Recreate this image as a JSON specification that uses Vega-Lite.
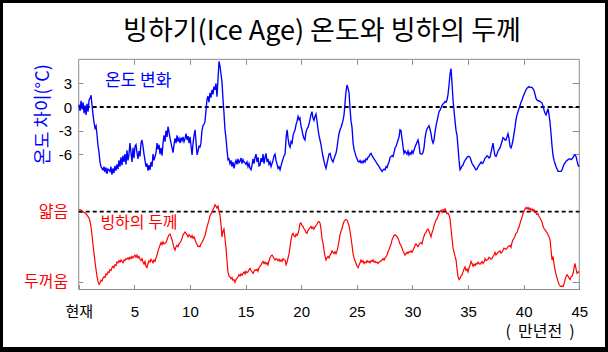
{
 "$schema": "https://vega.github.io/schema/vega-lite/v6.json",
 "width": 602, "height": 344,
 "autosize": {"type": "none"},
 "padding": {"left": 3, "top": 3, "right": 3, "bottom": 5},
 "background": "#000000",
 "config": {
  "view": {"fill": "#ffffff", "stroke": null},
  "axis": {"domain": false, "grid": false, "tickColor": "#8c8c8c", "tickWidth": 1, "labelFont": "Liberation Sans, Noto Sans CJK KR", "titleFont": "Noto Sans CJK KR", "labelFlush": false, "labelOverlap": false, "labelBound": false},
  "text": {"font": "Noto Sans CJK KR"}
 },
 "data": {"values": [
{"t":0.03,"temp":0.3,"ice":-0.03},{"t":0.12,"temp":-0.5,"ice":-0.03},{"t":0.21,"temp":0.8,"ice":-0.02},{"t":0.30,"temp":-0.3,"ice":-0.01},{"t":0.39,"temp":0.6,"ice":0.0},{"t":0.48,"temp":-0.8,"ice":0.01},{"t":0.57,"temp":0.2,"ice":0.02},{"t":0.66,"temp":-1.0,"ice":0.03},{"t":0.75,"temp":0.4,"ice":0.05},{"t":0.84,"temp":-0.6,"ice":0.07},{"t":0.93,"temp":0.9,"ice":0.09},
{"t":1.02,"temp":1.1,"ice":0.14},{"t":1.11,"temp":1.5,"ice":0.22},{"t":1.20,"temp":0.2,"ice":0.34},{"t":1.29,"temp":-1.0,"ice":0.48},{"t":1.38,"temp":-2.0,"ice":0.60},{"t":1.47,"temp":-2.7,"ice":0.72},{"t":1.56,"temp":-2.4,"ice":0.83},{"t":1.65,"temp":-3.6,"ice":0.93},{"t":1.74,"temp":-5.0,"ice":1.0},{"t":1.83,"temp":-5.8,"ice":1.04},
{"t":1.91,"temp":-7.0,"ice":1.02},{"t":2.00,"temp":-7.6,"ice":0.98},{"t":2.09,"temp":-7.8,"ice":0.99},{"t":2.18,"temp":-8.0,"ice":0.95},{"t":2.27,"temp":-7.6,"ice":0.93},{"t":2.36,"temp":-8.3,"ice":0.94},{"t":2.45,"temp":-7.7,"ice":0.89},{"t":2.54,"temp":-8.5,"ice":0.90},{"t":2.63,"temp":-7.9,"ice":0.86},{"t":2.72,"temp":-8.0,"ice":0.87},
{"t":2.81,"temp":-8.2,"ice":0.83},{"t":2.90,"temp":-7.6,"ice":0.84},{"t":2.99,"temp":-8.6,"ice":0.80},{"t":3.08,"temp":-7.8,"ice":0.78},{"t":3.17,"temp":-8.4,"ice":0.80},{"t":3.26,"temp":-7.5,"ice":0.76},{"t":3.35,"temp":-8.1,"ice":0.77},{"t":3.44,"temp":-7.3,"ice":0.72},{"t":3.53,"temp":-7.9,"ice":0.73},{"t":3.62,"temp":-6.8,"ice":0.70},
{"t":3.71,"temp":-7.6,"ice":0.72},{"t":3.80,"temp":-6.4,"ice":0.69},{"t":3.89,"temp":-7.4,"ice":0.71},{"t":3.98,"temp":-6.2,"ice":0.73},{"t":4.07,"temp":-7.0,"ice":0.69},{"t":4.16,"temp":-6.0,"ice":0.70},{"t":4.25,"temp":-7.3,"ice":0.67},{"t":4.34,"temp":-5.5,"ice":0.68},{"t":4.43,"temp":-6.8,"ice":0.66},{"t":4.52,"temp":-6.0,"ice":0.68},
{"t":4.61,"temp":-4.6,"ice":0.65},{"t":4.70,"temp":-5.8,"ice":0.67},{"t":4.79,"temp":-7.0,"ice":0.64},{"t":4.88,"temp":-5.2,"ice":0.66},{"t":4.97,"temp":-6.5,"ice":0.64},{"t":5.06,"temp":-5.0,"ice":0.62},{"t":5.15,"temp":-4.8,"ice":0.65},{"t":5.24,"temp":-5.8,"ice":0.62},{"t":5.33,"temp":-6.6,"ice":0.66},{"t":5.42,"temp":-5.6,"ice":0.64},
{"t":5.51,"temp":-6.3,"ice":0.68},{"t":5.60,"temp":-4.6,"ice":0.70},{"t":5.69,"temp":-4.2,"ice":0.67},{"t":5.78,"temp":-5.0,"ice":0.72},{"t":5.87,"temp":-6.0,"ice":0.75},{"t":5.96,"temp":-6.8,"ice":0.71},{"t":6.05,"temp":-7.6,"ice":0.78},{"t":6.14,"temp":-7.2,"ice":0.80},{"t":6.23,"temp":-8.1,"ice":0.74},{"t":6.32,"temp":-7.4,"ice":0.70},
{"t":6.41,"temp":-8.0,"ice":0.72},{"t":6.50,"temp":-7.0,"ice":0.68},{"t":6.59,"temp":-7.6,"ice":0.70},{"t":6.68,"temp":-6.0,"ice":0.73},{"t":6.77,"temp":-6.8,"ice":0.69},{"t":6.86,"temp":-6.3,"ice":0.71},{"t":6.95,"temp":-5.8,"ice":0.66},{"t":7.04,"temp":-4.6,"ice":0.62},{"t":7.13,"temp":-5.4,"ice":0.56},{"t":7.22,"temp":-4.8,"ice":0.52},
{"t":7.31,"temp":-6.0,"ice":0.48},{"t":7.40,"temp":-5.2,"ice":0.44},{"t":7.49,"temp":-6.2,"ice":0.47},{"t":7.58,"temp":-4.6,"ice":0.43},{"t":7.67,"temp":-3.6,"ice":0.46},{"t":7.76,"temp":-4.4,"ice":0.45},{"t":7.85,"temp":-3.0,"ice":0.44},{"t":7.94,"temp":-3.8,"ice":0.40},{"t":8.03,"temp":-2.5,"ice":0.36},{"t":8.12,"temp":-3.2,"ice":0.33},
{"t":8.21,"temp":-4.0,"ice":0.32},{"t":8.30,"temp":-4.6,"ice":0.36},{"t":8.39,"temp":-5.2,"ice":0.40},{"t":8.48,"temp":-5.8,"ice":0.46},{"t":8.57,"temp":-4.8,"ice":0.52},{"t":8.66,"temp":-4.0,"ice":0.55},{"t":8.75,"temp":-4.6,"ice":0.50},{"t":8.84,"temp":-3.6,"ice":0.48},{"t":8.93,"temp":-4.4,"ice":0.50},{"t":9.02,"temp":-4.0,"ice":0.46},
{"t":9.11,"temp":-4.6,"ice":0.44},{"t":9.20,"temp":-3.9,"ice":0.42},{"t":9.29,"temp":-4.3,"ice":0.38},{"t":9.38,"temp":-3.8,"ice":0.33},{"t":9.47,"temp":-4.4,"ice":0.31},{"t":9.56,"temp":-4.0,"ice":0.29},{"t":9.65,"temp":-3.4,"ice":0.31},{"t":9.74,"temp":-4.2,"ice":0.33},{"t":9.83,"temp":-3.7,"ice":0.36},{"t":9.92,"temp":-4.6,"ice":0.33},
{"t":10.01,"temp":-3.8,"ice":0.35},{"t":10.10,"temp":-5.0,"ice":0.37},{"t":10.19,"temp":-6.1,"ice":0.34},{"t":10.28,"temp":-4.6,"ice":0.38},{"t":10.37,"temp":-3.6,"ice":0.36},{"t":10.46,"temp":-2.9,"ice":0.40},{"t":10.55,"temp":-4.5,"ice":0.44},{"t":10.64,"temp":-6.1,"ice":0.47},{"t":10.73,"temp":-5.6,"ice":0.50},{"t":10.82,"temp":-5.0,"ice":0.49},
{"t":10.90,"temp":-5.1,"ice":0.50},{"t":10.99,"temp":-4.6,"ice":0.46},{"t":11.08,"temp":-3.0,"ice":0.44},{"t":11.17,"temp":-2.4,"ice":0.41},{"t":11.26,"temp":-2.2,"ice":0.38},{"t":11.35,"temp":-1.9,"ice":0.34},{"t":11.44,"temp":-0.5,"ice":0.28},{"t":11.53,"temp":0.9,"ice":0.22},{"t":11.62,"temp":1.4,"ice":0.17},{"t":11.71,"temp":0.6,"ice":0.12},
{"t":11.80,"temp":1.8,"ice":0.06},{"t":11.89,"temp":1.2,"ice":0.03},{"t":11.98,"temp":2.2,"ice":0.01},{"t":12.07,"temp":1.6,"ice":-0.03},{"t":12.16,"temp":2.6,"ice":-0.06},{"t":12.25,"temp":2.2,"ice":-0.10},{"t":12.34,"temp":3.0,"ice":-0.08},{"t":12.43,"temp":1.3,"ice":-0.05},{"t":12.52,"temp":3.5,"ice":-0.08},{"t":12.61,"temp":5.8,"ice":-0.01},
{"t":12.70,"temp":5.2,"ice":0.05},{"t":12.79,"temp":4.2,"ice":0.18},{"t":12.88,"temp":3.2,"ice":0.36},{"t":12.97,"temp":1.0,"ice":0.28},{"t":13.06,"temp":-0.8,"ice":0.25},{"t":13.15,"temp":-2.9,"ice":0.38},{"t":13.24,"temp":-4.0,"ice":0.52},{"t":13.33,"temp":-5.4,"ice":0.70},{"t":13.42,"temp":-6.7,"ice":0.86},{"t":13.51,"temp":-6.6,"ice":0.92},
{"t":13.60,"temp":-7.2,"ice":0.93},{"t":13.69,"temp":-6.8,"ice":0.96},{"t":13.78,"temp":-7.6,"ice":0.94},{"t":13.87,"temp":-7.0,"ice":0.98},{"t":13.96,"temp":-7.8,"ice":0.97},{"t":14.05,"temp":-7.2,"ice":1.01},{"t":14.14,"temp":-6.8,"ice":0.97},{"t":14.23,"temp":-7.3,"ice":0.95},{"t":14.32,"temp":-6.6,"ice":0.93},{"t":14.41,"temp":-7.1,"ice":0.90},
{"t":14.50,"temp":-6.9,"ice":0.92},{"t":14.59,"temp":-6.5,"ice":0.89},{"t":14.68,"temp":-7.2,"ice":0.91},{"t":14.77,"temp":-6.7,"ice":0.88},{"t":14.86,"temp":-7.0,"ice":0.86},{"t":14.95,"temp":-7.1,"ice":0.89},{"t":15.04,"temp":-7.3,"ice":0.85},{"t":15.13,"temp":-7.0,"ice":0.87},{"t":15.22,"temp":-7.6,"ice":0.86},{"t":15.31,"temp":-7.2,"ice":0.83},
{"t":15.40,"temp":-7.8,"ice":0.81},{"t":15.49,"temp":-8.0,"ice":0.84},{"t":15.58,"temp":-7.4,"ice":0.86},{"t":15.67,"temp":-6.6,"ice":0.88},{"t":15.76,"temp":-7.2,"ice":0.85},{"t":15.85,"temp":-6.4,"ice":0.83},{"t":15.94,"temp":-6.0,"ice":0.84},{"t":16.03,"temp":-7.0,"ice":0.82},{"t":16.12,"temp":-6.4,"ice":0.85},{"t":16.21,"temp":-7.5,"ice":0.80},
{"t":16.30,"temp":-7.4,"ice":0.78},{"t":16.39,"temp":-6.5,"ice":0.76},{"t":16.48,"temp":-7.0,"ice":0.73},{"t":16.57,"temp":-6.0,"ice":0.71},{"t":16.66,"temp":-7.2,"ice":0.74},{"t":16.75,"temp":-6.4,"ice":0.72},{"t":16.84,"temp":-5.9,"ice":0.75},{"t":16.93,"temp":-7.0,"ice":0.73},{"t":17.02,"temp":-6.6,"ice":0.76},{"t":17.11,"temp":-7.3,"ice":0.70},
{"t":17.20,"temp":-7.0,"ice":0.66},{"t":17.29,"temp":-7.6,"ice":0.63},{"t":17.38,"temp":-7.2,"ice":0.62},{"t":17.47,"temp":-6.8,"ice":0.64},{"t":17.56,"temp":-6.2,"ice":0.67},{"t":17.65,"temp":-6.0,"ice":0.69},{"t":17.74,"temp":-6.8,"ice":0.67},{"t":17.83,"temp":-7.3,"ice":0.68},{"t":17.92,"temp":-7.8,"ice":0.70},{"t":18.01,"temp":-7.6,"ice":0.68},
{"t":18.10,"temp":-8.0,"ice":0.71},{"t":18.19,"temp":-7.5,"ice":0.69},{"t":18.28,"temp":-7.0,"ice":0.71},{"t":18.37,"temp":-6.6,"ice":0.67},{"t":18.46,"temp":-6.2,"ice":0.69},{"t":18.55,"temp":-6.0,"ice":0.69},{"t":18.64,"temp":-4.0,"ice":0.76},{"t":18.73,"temp":-2.9,"ice":0.72},{"t":18.82,"temp":-4.0,"ice":0.66},{"t":18.91,"temp":-4.8,"ice":0.60},
{"t":19.00,"temp":-5.1,"ice":0.50},{"t":19.09,"temp":-4.4,"ice":0.40},{"t":19.18,"temp":-4.6,"ice":0.33},{"t":19.27,"temp":-3.6,"ice":0.31},{"t":19.36,"temp":-3.2,"ice":0.35},{"t":19.45,"temp":-2.9,"ice":0.36},{"t":19.54,"temp":-2.2,"ice":0.32},{"t":19.63,"temp":-1.8,"ice":0.34},{"t":19.72,"temp":-1.2,"ice":0.31},{"t":19.81,"temp":-1.6,"ice":0.25},
{"t":19.89,"temp":-1.4,"ice":0.17},{"t":19.98,"temp":-2.4,"ice":0.16},{"t":20.07,"temp":-2.9,"ice":0.20},{"t":20.16,"temp":-3.6,"ice":0.21},{"t":20.25,"temp":-4.0,"ice":0.24},{"t":20.34,"temp":-4.2,"ice":0.26},{"t":20.43,"temp":-3.2,"ice":0.30},{"t":20.52,"temp":-2.8,"ice":0.31},{"t":20.61,"temp":-2.6,"ice":0.27},{"t":20.70,"temp":-2.2,"ice":0.25},
{"t":20.79,"temp":-1.6,"ice":0.23},{"t":20.88,"temp":-1.0,"ice":0.21},{"t":20.97,"temp":-0.6,"ice":0.24},{"t":21.06,"temp":-1.4,"ice":0.22},{"t":21.15,"temp":-1.7,"ice":0.25},{"t":21.24,"temp":-1.2,"ice":0.22},{"t":21.33,"temp":-0.9,"ice":0.20},{"t":21.42,"temp":-1.8,"ice":0.18},{"t":21.51,"temp":-2.8,"ice":0.15},{"t":21.60,"temp":-3.6,"ice":0.14},
{"t":21.69,"temp":-4.2,"ice":0.16},{"t":21.78,"temp":-4.8,"ice":0.25},{"t":21.87,"temp":-5.6,"ice":0.38},{"t":21.96,"temp":-6.3,"ice":0.45},{"t":22.05,"temp":-6.9,"ice":0.55},{"t":22.14,"temp":-7.4,"ice":0.63},{"t":22.23,"temp":-7.8,"ice":0.69},{"t":22.32,"temp":-7.2,"ice":0.66},{"t":22.41,"temp":-6.6,"ice":0.64},{"t":22.50,"temp":-6.0,"ice":0.66},
{"t":22.59,"temp":-5.9,"ice":0.62},{"t":22.68,"temp":-6.4,"ice":0.60},{"t":22.77,"temp":-6.8,"ice":0.56},{"t":22.86,"temp":-7.0,"ice":0.58},{"t":22.95,"temp":-6.6,"ice":0.60},{"t":23.04,"temp":-6.2,"ice":0.57},{"t":23.13,"temp":-5.9,"ice":0.60},{"t":23.22,"temp":-5.2,"ice":0.56},{"t":23.31,"temp":-4.2,"ice":0.50},{"t":23.40,"temp":-3.4,"ice":0.42},
{"t":23.49,"temp":-2.9,"ice":0.33},{"t":23.58,"temp":-2.6,"ice":0.28},{"t":23.67,"temp":-2.2,"ice":0.24},{"t":23.76,"temp":-1.7,"ice":0.18},{"t":23.85,"temp":-1.0,"ice":0.14},{"t":23.94,"temp":0.5,"ice":0.12},{"t":24.03,"temp":2.0,"ice":0.11},{"t":24.12,"temp":2.8,"ice":0.12},{"t":24.21,"temp":2.4,"ice":0.16},{"t":24.30,"temp":1.8,"ice":0.20},
{"t":24.39,"temp":-0.2,"ice":0.28},{"t":24.48,"temp":-1.8,"ice":0.38},{"t":24.57,"temp":-2.6,"ice":0.48},{"t":24.66,"temp":-4.5,"ice":0.60},{"t":24.75,"temp":-5.4,"ice":0.66},{"t":24.84,"temp":-5.8,"ice":0.70},{"t":24.93,"temp":-6.3,"ice":0.74},{"t":25.02,"temp":-6.6,"ice":0.78},{"t":25.11,"temp":-6.9,"ice":0.80},{"t":25.20,"temp":-7.0,"ice":0.76},
{"t":25.29,"temp":-6.8,"ice":0.73},{"t":25.38,"temp":-7.1,"ice":0.69},{"t":25.47,"temp":-6.9,"ice":0.72},{"t":25.56,"temp":-7.1,"ice":0.70},{"t":25.65,"temp":-6.8,"ice":0.74},{"t":25.74,"temp":-7.0,"ice":0.72},{"t":25.83,"temp":-6.6,"ice":0.73},{"t":25.92,"temp":-6.7,"ice":0.70},{"t":26.01,"temp":-6.4,"ice":0.72},{"t":26.10,"temp":-6.3,"ice":0.71},
{"t":26.19,"temp":-6.0,"ice":0.73},{"t":26.28,"temp":-5.9,"ice":0.70},{"t":26.37,"temp":-6.2,"ice":0.71},{"t":26.46,"temp":-6.4,"ice":0.69},{"t":26.55,"temp":-6.6,"ice":0.72},{"t":26.64,"temp":-6.8,"ice":0.71},{"t":26.73,"temp":-7.0,"ice":0.73},{"t":26.82,"temp":-7.2,"ice":0.72},{"t":26.91,"temp":-7.4,"ice":0.74},{"t":27.00,"temp":-7.6,"ice":0.72},
{"t":27.09,"temp":-7.8,"ice":0.71},{"t":27.18,"temp":-8.0,"ice":0.70},{"t":27.27,"temp":-8.2,"ice":0.69},{"t":27.36,"temp":-8.0,"ice":0.67},{"t":27.45,"temp":-7.9,"ice":0.69},{"t":27.54,"temp":-8.0,"ice":0.66},{"t":27.63,"temp":-7.6,"ice":0.64},{"t":27.72,"temp":-7.7,"ice":0.62},{"t":27.81,"temp":-7.3,"ice":0.57},{"t":27.90,"temp":-7.0,"ice":0.54},
{"t":27.99,"temp":-6.4,"ice":0.50},{"t":28.08,"temp":-6.3,"ice":0.46},{"t":28.17,"temp":-6.2,"ice":0.40},{"t":28.26,"temp":-6.3,"ice":0.37},{"t":28.35,"temp":-5.8,"ice":0.34},{"t":28.44,"temp":-5.2,"ice":0.33},{"t":28.53,"temp":-5.0,"ice":0.34},{"t":28.62,"temp":-4.6,"ice":0.36},{"t":28.71,"temp":-4.2,"ice":0.38},{"t":28.80,"temp":-3.8,"ice":0.42},
{"t":28.88,"temp":-2.9,"ice":0.46},{"t":28.97,"temp":-3.0,"ice":0.48},{"t":29.06,"temp":-4.0,"ice":0.52},{"t":29.15,"temp":-5.0,"ice":0.56},{"t":29.24,"temp":-5.9,"ice":0.59},{"t":29.33,"temp":-5.6,"ice":0.62},{"t":29.42,"temp":-5.8,"ice":0.60},{"t":29.51,"temp":-6.0,"ice":0.58},{"t":29.60,"temp":-5.6,"ice":0.60},{"t":29.69,"temp":-6.1,"ice":0.57},
{"t":29.78,"temp":-5.8,"ice":0.58},{"t":29.87,"temp":-6.0,"ice":0.56},{"t":29.96,"temp":-5.6,"ice":0.58},{"t":30.05,"temp":-5.9,"ice":0.55},{"t":30.14,"temp":-5.5,"ice":0.52},{"t":30.23,"temp":-5.1,"ice":0.48},{"t":30.32,"temp":-4.8,"ice":0.46},{"t":30.41,"temp":-4.5,"ice":0.48},{"t":30.50,"temp":-4.2,"ice":0.50},{"t":30.59,"temp":-4.8,"ice":0.47},
{"t":30.68,"temp":-5.9,"ice":0.45},{"t":30.77,"temp":-6.0,"ice":0.44},{"t":30.86,"temp":-6.0,"ice":0.46},{"t":30.95,"temp":-5.8,"ice":0.40},{"t":31.04,"temp":-5.2,"ice":0.35},{"t":31.13,"temp":-4.0,"ice":0.31},{"t":31.22,"temp":-3.2,"ice":0.30},{"t":31.31,"temp":-2.8,"ice":0.26},{"t":31.40,"temp":-2.6,"ice":0.25},{"t":31.49,"temp":-2.4,"ice":0.28},
{"t":31.58,"temp":-2.8,"ice":0.32},{"t":31.67,"temp":-3.4,"ice":0.36},{"t":31.76,"temp":-4.2,"ice":0.30},{"t":31.85,"temp":-4.6,"ice":0.26},{"t":31.94,"temp":-4.2,"ice":0.20},{"t":32.03,"temp":-3.2,"ice":0.16},{"t":32.12,"temp":-2.4,"ice":0.12},{"t":32.21,"temp":-1.8,"ice":0.10},{"t":32.30,"temp":-1.2,"ice":0.06},{"t":32.39,"temp":-0.6,"ice":0.03},
{"t":32.48,"temp":-0.4,"ice":0.0},{"t":32.57,"temp":-0.1,"ice":-0.02},{"t":32.66,"temp":0.2,"ice":0.01},{"t":32.75,"temp":0.4,"ice":-0.03},{"t":32.84,"temp":0.5,"ice":-0.02},{"t":32.93,"temp":0.7,"ice":-0.04},{"t":33.02,"temp":0.6,"ice":0.0},{"t":33.11,"temp":0.9,"ice":0.03},{"t":33.20,"temp":1.6,"ice":0.02},{"t":33.29,"temp":2.8,"ice":0.05},
{"t":33.38,"temp":4.2,"ice":0.10},{"t":33.47,"temp":4.9,"ice":0.25},{"t":33.56,"temp":3.0,"ice":0.38},{"t":33.65,"temp":0.9,"ice":0.52},{"t":33.74,"temp":-0.5,"ice":0.58},{"t":33.83,"temp":-1.8,"ice":0.64},{"t":33.92,"temp":-3.0,"ice":0.69},{"t":34.01,"temp":-3.6,"ice":0.82},{"t":34.10,"temp":-5.2,"ice":0.93},{"t":34.19,"temp":-6.8,"ice":0.97},
{"t":34.28,"temp":-8.0,"ice":0.95},{"t":34.37,"temp":-7.8,"ice":0.92},{"t":34.46,"temp":-7.5,"ice":0.90},{"t":34.55,"temp":-7.4,"ice":0.86},{"t":34.64,"temp":-7.0,"ice":0.82},{"t":34.73,"temp":-6.8,"ice":0.79},{"t":34.82,"temp":-6.6,"ice":0.84},{"t":34.91,"temp":-6.4,"ice":0.82},{"t":35.00,"temp":-6.3,"ice":0.86},{"t":35.09,"temp":-6.3,"ice":0.80},
{"t":35.18,"temp":-6.4,"ice":0.76},{"t":35.27,"temp":-6.8,"ice":0.71},{"t":35.36,"temp":-7.2,"ice":0.74},{"t":35.45,"temp":-7.4,"ice":0.78},{"t":35.54,"temp":-7.6,"ice":0.75},{"t":35.63,"temp":-7.8,"ice":0.77},{"t":35.72,"temp":-8.0,"ice":0.74},{"t":35.81,"temp":-7.9,"ice":0.75},{"t":35.90,"temp":-7.6,"ice":0.72},{"t":35.99,"temp":-7.4,"ice":0.74},
{"t":36.08,"temp":-7.2,"ice":0.75},{"t":36.17,"temp":-7.0,"ice":0.73},{"t":36.26,"temp":-7.2,"ice":0.71},{"t":36.35,"temp":-7.1,"ice":0.74},{"t":36.44,"temp":-6.8,"ice":0.72},{"t":36.53,"temp":-6.5,"ice":0.67},{"t":36.62,"temp":-6.4,"ice":0.70},{"t":36.71,"temp":-6.2,"ice":0.69},{"t":36.80,"temp":-6.3,"ice":0.68},{"t":36.89,"temp":-6.5,"ice":0.65},
{"t":36.97,"temp":-6.4,"ice":0.66},{"t":37.06,"temp":-5.8,"ice":0.68},{"t":37.15,"temp":-5.2,"ice":0.67},{"t":37.24,"temp":-4.6,"ice":0.64},{"t":37.33,"temp":-5.5,"ice":0.62},{"t":37.42,"temp":-6.2,"ice":0.58},{"t":37.51,"temp":-6.3,"ice":0.62},{"t":37.60,"temp":-6.0,"ice":0.60},{"t":37.69,"temp":-5.6,"ice":0.58},{"t":37.78,"temp":-5.4,"ice":0.57},
{"t":37.87,"temp":-5.2,"ice":0.56},{"t":37.96,"temp":-4.8,"ice":0.59},{"t":38.05,"temp":-4.4,"ice":0.58},{"t":38.14,"temp":-3.9,"ice":0.55},{"t":38.23,"temp":-4.0,"ice":0.52},{"t":38.32,"temp":-4.2,"ice":0.53},{"t":38.41,"temp":-4.2,"ice":0.54},{"t":38.50,"temp":-3.8,"ice":0.52},{"t":38.59,"temp":-3.4,"ice":0.50},{"t":38.68,"temp":-4.0,"ice":0.49},
{"t":38.77,"temp":-5.0,"ice":0.48},{"t":38.86,"temp":-5.2,"ice":0.51},{"t":38.95,"temp":-4.8,"ice":0.44},{"t":39.04,"temp":-4.2,"ice":0.40},{"t":39.13,"temp":-3.4,"ice":0.38},{"t":39.22,"temp":-2.6,"ice":0.35},{"t":39.31,"temp":-1.6,"ice":0.31},{"t":39.40,"temp":-1.0,"ice":0.30},{"t":39.49,"temp":-0.6,"ice":0.25},{"t":39.58,"temp":-0.2,"ice":0.22},
{"t":39.67,"temp":0.2,"ice":0.17},{"t":39.76,"temp":0.6,"ice":0.12},{"t":39.85,"temp":0.9,"ice":0.08},{"t":39.94,"temp":1.3,"ice":0.03},{"t":40.03,"temp":1.6,"ice":-0.01},{"t":40.12,"temp":1.9,"ice":-0.04},{"t":40.21,"temp":2.2,"ice":-0.06},{"t":40.30,"temp":2.4,"ice":-0.04},{"t":40.39,"temp":2.5,"ice":-0.06},{"t":40.48,"temp":2.6,"ice":-0.03},
{"t":40.57,"temp":2.5,"ice":-0.05},{"t":40.66,"temp":2.5,"ice":-0.02},{"t":40.75,"temp":2.5,"ice":-0.04},{"t":40.84,"temp":2.3,"ice":-0.01},{"t":40.93,"temp":2.1,"ice":-0.03},{"t":41.02,"temp":1.6,"ice":0.0},{"t":41.11,"temp":1.1,"ice":0.02},{"t":41.20,"temp":0.9,"ice":0.04},{"t":41.29,"temp":0.8,"ice":0.03},{"t":41.38,"temp":0.8,"ice":0.07},
{"t":41.47,"temp":0.7,"ice":0.09},{"t":41.56,"temp":0.6,"ice":0.12},{"t":41.65,"temp":0.5,"ice":0.15},{"t":41.74,"temp":0.1,"ice":0.21},{"t":41.83,"temp":-0.4,"ice":0.24},{"t":41.92,"temp":-0.8,"ice":0.26},{"t":42.01,"temp":-1.0,"ice":0.28},{"t":42.10,"temp":-0.6,"ice":0.30},{"t":42.19,"temp":-0.2,"ice":0.33},{"t":42.28,"temp":-1.0,"ice":0.36},
{"t":42.37,"temp":-2.0,"ice":0.40},{"t":42.46,"temp":-3.4,"ice":0.55},{"t":42.55,"temp":-5.0,"ice":0.69},{"t":42.64,"temp":-6.2,"ice":0.64},{"t":42.73,"temp":-6.8,"ice":0.75},{"t":42.82,"temp":-7.2,"ice":0.83},{"t":42.91,"temp":-7.6,"ice":0.90},{"t":43.00,"temp":-7.9,"ice":0.95},{"t":43.09,"temp":-8.2,"ice":1.0},{"t":43.18,"temp":-8.2,"ice":1.04},
{"t":43.27,"temp":-8.2,"ice":1.06},{"t":43.36,"temp":-8.2,"ice":1.07},{"t":43.45,"temp":-8.0,"ice":1.06},{"t":43.54,"temp":-7.6,"ice":1.07},{"t":43.63,"temp":-7.3,"ice":1.03},{"t":43.72,"temp":-7.1,"ice":0.97},{"t":43.81,"temp":-6.9,"ice":0.93},{"t":43.90,"temp":-6.8,"ice":0.90},{"t":43.99,"temp":-6.7,"ice":0.92},{"t":44.08,"temp":-6.6,"ice":0.95},
{"t":44.17,"temp":-6.6,"ice":0.97},{"t":44.26,"temp":-6.7,"ice":0.93},{"t":44.35,"temp":-6.6,"ice":0.92},{"t":44.44,"temp":-6.4,"ice":0.88},{"t":44.53,"temp":-6.2,"ice":0.80},{"t":44.62,"temp":-6.1,"ice":0.74},{"t":44.71,"temp":-6.3,"ice":0.82},{"t":44.80,"temp":-6.9,"ice":0.88},{"t":44.89,"temp":-7.4,"ice":0.86},{"t":44.98,"temp":-7.6,"ice":0.87}
 ]},
 "resolve": {"scale": {"y": "independent"}, "axis": {"x": "independent", "y": "independent"}},
 "layer": [
  {
   "data": {"values": [{}]},
   "mark": {"type": "rect", "fill": "transparent", "stroke": "#8c8c8c", "strokeWidth": 1},
   "encoding": {
    "x": {"datum": 0, "type": "quantitative", "scale": {"domain": [-6.805, 47.31], "nice": false, "zero": false}, "axis": null},
    "x2": {"datum": 45},
    "y": {"datum": 6.07, "type": "quantitative", "scale": {"domain": [-30.55, 13.24], "nice": false, "zero": false}, "axis": null},
    "y2": {"datum": -23.23}
   }
  },
  {
   "data": {"values": [{}]},
   "mark": {"type": "rule", "color": "#000000", "strokeDash": [4, 3], "strokeWidth": 1.8},
   "encoding": {
    "x": {"datum": 0, "type": "quantitative", "scale": {"domain": [-6.805, 47.31], "nice": false, "zero": false}, "axis": null},
    "x2": {"datum": 45},
    "y": {"datum": 0, "type": "quantitative", "scale": {"domain": [-30.55, 13.24], "nice": false, "zero": false},
     "axis": {"orient": "right", "offset": -25.7, "values": [3, 0, -3, -6], "labels": false, "tickSize": -7, "title": null}}
   }
  },
  {
   "data": {"values": [{}]},
   "mark": {"type": "rule", "color": "#000000", "strokeDash": [4, 3], "strokeWidth": 1.8},
   "encoding": {
    "x": {"datum": 0, "type": "quantitative", "scale": {"domain": [-6.805, 47.31], "nice": false, "zero": false}, "axis": null},
    "x2": {"datum": 45},
    "y": {"datum": 0, "type": "quantitative", "scale": {"domain": [-2.981, 1.933], "reverse": true, "nice": false, "zero": false},
     "axis": {"orient": "right", "offset": -25.7, "values": [1], "labels": false, "tickSize": -7, "title": null}}
   }
  },
  {
   "mark": {"type": "line", "color": "#0000ff", "strokeWidth": 1.35},
   "encoding": {
    "x": {"field": "t", "type": "quantitative", "scale": {"domain": [-6.805, 47.31], "nice": false, "zero": false},
     "axis": {"orient": "bottom", "offset": -57.5, "values": [0, 5, 10, 15, 20, 25, 30, 35, 40, 45], "labelExpr": "datum.value == 0 ? '현재' : datum.label", "tickSize": -5, "labelPadding": 19.5, "labelFontSize": 15, "labelColor": "#000000", "title": null}},
    "y": {"field": "temp", "type": "quantitative", "scale": {"domain": [-30.55, 13.24], "nice": false, "zero": false},
     "axis": {"orient": "left", "offset": -75.7, "values": [3, 0, -3, -6], "labelExpr": "'' + datum.value", "tickSize": -4, "labelPadding": 11, "labelFontSize": 15, "labelColor": "#000000",
      "title": "온도 차이(°C)", "titleColor": "#0000ff", "titleFontSize": 18, "titleFontWeight": "normal", "titleAngle": -90, "titleX": -34.7, "titleY": 111, "titleAlign": "center", "titleBaseline": "middle"}}
   }
  },
  {
   "mark": {"type": "line", "color": "#ff0000", "strokeWidth": 1.2},
   "encoding": {
    "x": {"field": "t", "type": "quantitative", "scale": {"domain": [-6.805, 47.31], "nice": false, "zero": false},
     "axis": {"orient": "top", "offset": -56.3, "values": [5, 10, 15, 20, 25, 30, 35, 40], "labels": false, "tickSize": -5, "title": null}},
    "y": {"field": "ice", "type": "quantitative", "scale": {"domain": [-2.981, 1.933], "reverse": true, "nice": false, "zero": false},
     "axis": {"orient": "left", "offset": -75.7, "values": [0, 1], "labelExpr": "datum.value == 0 ? '얇음' : '두꺼움'", "labelFont": "Noto Sans CJK KR", "labelColor": "#ff0000", "labelFontSize": 16, "tickSize": -4, "labelPadding": 15, "title": null}}
   }
  },
  {
   "data": {"values": [{}]},
   "mark": {"type": "text", "text": "빙하기(Ice Age) 온도와 빙하의 두께", "fontSize": 27, "color": "#000000", "align": "center", "baseline": "middle"},
   "encoding": {
    "x": {"datum": 21.87, "type": "quantitative", "scale": {"domain": [-6.805, 47.31], "nice": false, "zero": false}, "axis": null},
    "y": {"datum": 9.55, "type": "quantitative", "scale": {"domain": [-30.55, 13.24], "nice": false, "zero": false}, "axis": null}
   }
  },
  {
   "data": {"values": [{}]},
   "mark": {"type": "text", "text": "온도 변화", "fontSize": 17, "color": "#0000ff", "align": "center", "baseline": "middle"},
   "encoding": {
    "x": {"datum": 5.34, "type": "quantitative", "scale": {"domain": [-6.805, 47.31], "nice": false, "zero": false}, "axis": null},
    "y": {"datum": 3.31, "type": "quantitative", "scale": {"domain": [-30.55, 13.24], "nice": false, "zero": false}, "axis": null}
   }
  },
  {
   "data": {"values": [{}]},
   "mark": {"type": "text", "text": "빙하의 두께", "fontSize": 16, "color": "#ff0000", "align": "center", "baseline": "middle"},
   "encoding": {
    "x": {"datum": 5.42, "type": "quantitative", "scale": {"domain": [-6.805, 47.31], "nice": false, "zero": false}, "axis": null},
    "y": {"datum": 0.161, "type": "quantitative", "scale": {"domain": [-2.981, 1.933], "reverse": true, "nice": false, "zero": false}, "axis": null}
   }
  },
  {
   "data": {"values": [{}]},
   "mark": {"type": "text", "text": "(\u00a0\u00a0만년전\u00a0\u00a0)", "fontSize": 16, "color": "#000000", "align": "center", "baseline": "middle"},
   "encoding": {
    "x": {"datum": 41.47, "type": "quantitative", "scale": {"domain": [-6.805, 47.31], "nice": false, "zero": false}, "axis": null},
    "y": {"datum": -28.64, "type": "quantitative", "scale": {"domain": [-30.55, 13.24], "nice": false, "zero": false}, "axis": null}
   }
  }
 ]
}
